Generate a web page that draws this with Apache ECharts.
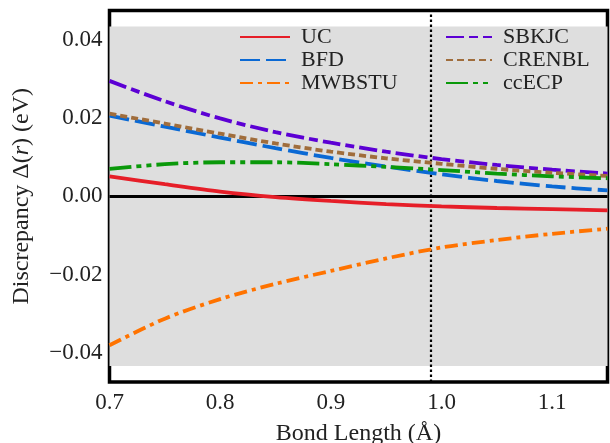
<!DOCTYPE html>
<html>
<head>
<meta charset="utf-8">
<script src="https://cdn.jsdelivr.net/npm/echarts@6/dist/echarts.min.js"></script>
<style>
html,body{margin:0;padding:0;background:#fff;}
#c{width:610px;height:443px;}
</style>
</head>
<body>
<div id="c"></div>
<script>
// ---- data ----
const bondLength = [0.70, 0.75, 0.80, 0.85, 0.90, 0.95, 1.00, 1.05, 1.10, 1.15];
const UC      = [0.0051, 0.0031, 0.0012, -0.0002, -0.0012, -0.0020, -0.0026, -0.0030, -0.0033, -0.0036];
const BFD     = [0.0206, 0.0178, 0.0150, 0.0123, 0.0098, 0.0076, 0.0056, 0.0039, 0.0025, 0.0015];
const MWBSTU  = [-0.0381, -0.0313, -0.0263, -0.0224, -0.0191, -0.0159, -0.0131, -0.0112, -0.0096, -0.0083];
const SBKJC   = [0.0295, 0.0243, 0.0199, 0.0164, 0.0137, 0.0114, 0.0095, 0.0080, 0.0068, 0.0058];
const CRENBL  = [0.0211, 0.0186, 0.0160, 0.0135, 0.0114, 0.0097, 0.0083, 0.0070, 0.0060, 0.0052];
const ccECP   = [0.0070, 0.0082, 0.0087, 0.0087, 0.0082, 0.0075, 0.0067, 0.0058, 0.0051, 0.0046];
const yTicks  = [-0.04, -0.02, 0.00, 0.02, 0.04];
const chemAcc = 0.0434;      // gray band half-width (eV)
const eqBond  = 0.988;       // vertical dotted line
const xMin = 0.7, xMax = 1.15, yMin = -0.0475, yMax = 0.0475;

function pairs(ys){ return bondLength.map((x,i)=>[x, ys[i]]); }

const FONT = 'Liberation Serif';
const chart = echarts.init(document.getElementById('c'), null, {renderer:'canvas'});

function lineSeries(name, ys, color, type){
  return {
    name, type:'line', data:pairs(ys), smooth:0.3, symbol:'none', z:5,
    lineStyle:{color, width:3.8, type, cap:'butt'},
    itemStyle:{color}
  };
}

const yLab = v => {
  if (Math.abs(v) < 1e-9) return '0.00';
  return (v < 0 ? '\u2212' : '') + Math.abs(v).toFixed(2);
};

const legendCommon = {
  orient:'vertical', top:21, itemHeight:12, itemGap:1,
  itemStyle:{opacity:0},
  textStyle:{fontFamily:FONT, fontSize:22, color:'#222', padding:[0,0,0,6], lineHeight:21}
};

const option = {
  animation:false,
  backgroundColor:'#fff',
  grid:{left:109.5, right:2.5, top:10.5, bottom:61, show:true, borderColor:'#000', borderWidth:3.5,
        backgroundColor:'#fff', z:0, containLabel:false, outerBoundsMode:'none'},
  xAxis:[{
    type:'value', min:xMin, max:xMax, interval:0.1,
    axisLine:{show:false}, splitLine:{show:false},
    axisTick:{show:true, inside:true, length:6, lineStyle:{color:'#000', width:2}},
    axisLabel:{show:true, margin:9, color:'#222', fontFamily:FONT, fontSize:23,
      formatter:v=>v.toFixed(1), showMaxLabel:false},
    name:'Bond Length (\u00C5)', nameLocation:'middle', nameGap:40,
    nameTextStyle:{color:'#222', fontFamily:FONT, fontSize:24}
  },{
    type:'value', min:xMin, max:xMax, interval:0.1, position:'top',
    axisLine:{show:false}, splitLine:{show:false},
    axisTick:{show:true, inside:true, length:6, lineStyle:{color:'#000', width:2}},
    axisLabel:{show:false}
  }],
  yAxis:[{
    type:'value', min:yMin, max:yMax,
    axisLine:{show:false}, splitLine:{show:false},
    axisTick:{show:true, inside:true, length:6, customValues:yTicks, lineStyle:{color:'#000', width:2}},
    axisLabel:{show:true, margin:7, color:'#222', fontFamily:FONT, fontSize:23, customValues:yTicks, formatter:yLab},
    name:'{a|Discrepancy \u0394(}{i|r}{a|) (eV)}', nameLocation:'middle', nameGap:76, nameRotate:90,
    nameTextStyle:{rich:{
      a:{fontFamily:FONT, fontSize:24, color:'#222'},
      i:{fontFamily:FONT, fontSize:24, fontStyle:'italic', color:'#222'}
    }}
  },{
    type:'value', min:yMin, max:yMax, position:'right',
    axisLine:{show:false}, splitLine:{show:false},
    axisTick:{show:true, inside:true, length:6, customValues:yTicks, lineStyle:{color:'#000', width:2}},
    axisLabel:{show:false, customValues:yTicks}
  }],
  legend:[
    Object.assign({}, legendCommon, {left:234, itemWidth:50, data:['UC','BFD','MWBSTU']}),
    Object.assign({}, legendCommon, {left:440, itemWidth:46, data:['SBKJC','CRENBL','ccECP']})
  ],
  series:[
    {
      type:'line', data:[], z:1, silent:true,
      markArea:{silent:true, itemStyle:{color:'#dedede'}, data:[[{yAxis:-chemAcc},{yAxis:chemAcc}]]},
      markLine:{silent:true, symbol:'none', label:{show:false},
        lineStyle:{color:'#000', width:3, type:'solid'}, data:[{yAxis:0}]}
    },
    lineSeries('UC', UC, '#e61e28', 'solid'),
    lineSeries('BFD', BFD, '#0a69d4', [20,6]),
    lineSeries('MWBSTU', MWBSTU, '#ff7300', [13,5,4,5]),
    lineSeries('SBKJC', SBKJC, '#5c00d4', [18,5,9,5]),
    lineSeries('CRENBL', CRENBL, '#a06d3c', [7,4]),
    lineSeries('ccECP', ccECP, '#0a990a', [22,5,5,5,5,5]),
    {
      type:'line', data:[], z:8, silent:true,
      markLine:{silent:true, symbol:'none', label:{show:false},
        lineStyle:{color:'#000', width:2.2, type:[2.5,2.5]}, data:[{xAxis:eqBond}]}
    }
  ]
};
chart.setOption(option);
</script>
</body>
</html>
